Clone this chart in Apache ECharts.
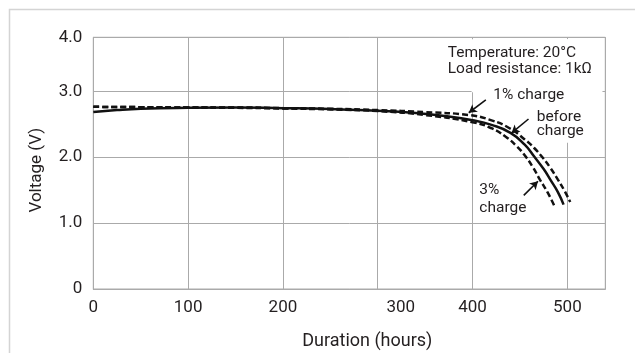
<!DOCTYPE html>
<html>
<head>
<meta charset="utf-8">
<title>Discharge curves</title>
<script src="https://cdn.jsdelivr.net/npm/echarts@6/dist/echarts.min.js"></script>
<style>
  html, body { margin: 0; padding: 0; background: #fff; }
  #chart { width: 635px; height: 353px; }
</style>
</head>
<body>
<div id="chart"></div>
<script>
// [hours, volts]
const beforeCharge = [[0, 2.685], [25, 2.715], [50, 2.735], [100, 2.75], [150, 2.755], [200, 2.745], [250, 2.73], [300, 2.705], [340, 2.67], [370, 2.625], [400, 2.56], [420, 2.49], [440, 2.37], [455, 2.19], [465, 2.01], [475, 1.82], [482, 1.66], [490, 1.47], [496, 1.28]]
const charge1 = [[0, 2.765], [50, 2.76], [100, 2.755], [150, 2.755], [200, 2.745], [250, 2.735], [300, 2.715], [350, 2.685], [396, 2.64], [420, 2.56], [439, 2.44], [455, 2.27], [465, 2.14], [473, 2.01], [482, 1.84], [490, 1.66], [497, 1.49], [503, 1.32]]
const charge3 = [[0, 2.765], [50, 2.76], [100, 2.755], [150, 2.75], [200, 2.74], [250, 2.725], [300, 2.7], [350, 2.64], [400, 2.53], [420, 2.44], [435, 2.31], [447, 2.16], [456, 2.01], [464, 1.84], [471, 1.66], [479, 1.47], [486, 1.27]]

const xMax = 540
const yTop = 3.82            // top of the frame, the source labels it 4.0
const yTickLabels = ['0', '1.0', '2.0', '3.0', '4.0']

// label arrows, [tail, head] in data units
const arrow1 = [[414, 2.87], [396, 2.675]]
const arrowBefore = [[459, 2.58], [441, 2.365]]
const arrow3 = [[454, 1.42], [469, 1.635]]

// blank box behind the notes (grid lines stop there)
const noteMask = [[[399, 2.985], [537, 3.79]], [[495, 2.22], [505, 3.79]]]

const chart = echarts.init(document.getElementById('chart'))

const font = 'Roboto'
const ink = '#231f20'
const gridGrey = '#aaa'

const toPair = (p) => [{ coord: p[0] }, { coord: p[1] }]

const lineSeries = (name, data, dashed) => ({
  name: name,
  type: 'line',
  data: data,
  symbol: 'none',
  smooth: 0.5,
  z: 3,
  lineStyle: {
    color: '#111',
    width: 2.5,
    type: dashed ? [6, 3] : 'solid'
  },
  emphasis: { disabled: true }
})

const before = lineSeries('before charge', beforeCharge, false)
before.markArea = {
  silent: true,
  itemStyle: { color: '#fff', opacity: 1 },
  label: { show: false },
  emphasis: { disabled: true },
  data: noteMask.map(toPair)
}
before.markLine = {
  silent: true,
  symbol: ['none', 'arrow'],
  symbolSize: [7, 8],
  lineStyle: { color: '#111', width: 1.6, type: 'solid' },
  label: { show: false },
  emphasis: { disabled: true },
  data: [arrow1, arrowBefore, arrow3].map(toPair)
}

const note = (text, x, y) => ({
  type: 'text',
  x: x,
  y: y,
  z: 100,
  style: {
    text: text,
    font: '15.5px ' + font,
    fill: ink,
    textAlign: 'left',
    textVerticalAlign: 'middle'
  }
})

const option = {
  animation: false,
  backgroundColor: '#fff',
  grid: {
    left: 93.3,
    right: 29.7,
    top: 37.3,
    bottom: 64,
    containLabel: false,
    outerBoundsMode: 'none',
    show: true,
    borderColor: gridGrey,
    borderWidth: 1,
    backgroundColor: 'transparent'
  },
  xAxis: {
    type: 'value',
    min: 0,
    max: xMax,
    interval: 100,
    name: 'Duration (hours)',
    nameLocation: 'middle',
    nameGap: 43,
    nameTextStyle: { fontFamily: font, fontSize: 18, color: ink, padding: [0, 0, 0, 36] },
    axisLine: { show: true, lineStyle: { color: gridGrey, width: 1 } },
    axisTick: { show: false },
    axisLabel: {
      margin: 10,
      showMaxLabel: false,
      fontFamily: font,
      fontSize: 17,
      color: ink,
      // the source prints 300 a little to the right of its grid line
      formatter: (v) => v === 300 ? '{off|300}' : String(v),
      rich: { off: { padding: [0, 0, 0, 46], fontFamily: font, fontSize: 17, color: ink } }
    },
    splitLine: { show: true, lineStyle: { color: gridGrey, width: 1 } }
  },
  yAxis: {
    type: 'value',
    min: 0,
    max: yTop,
    interval: 1,
    name: 'Voltage (V)',
    nameLocation: 'middle',
    nameGap: 48,
    nameTextStyle: { fontFamily: font, fontSize: 17, color: ink, padding: [0, 14, 0, 0] },
    axisLine: { show: true, lineStyle: { color: gridGrey, width: 1 } },
    axisTick: { show: false },
    axisLabel: {
      margin: 11,
      showMinLabel: true,
      showMaxLabel: true,
      fontFamily: font,
      fontSize: 17,
      color: ink,
      formatter: (v, i) => yTickLabels[i]
    },
    splitLine: { show: true, lineStyle: { color: gridGrey, width: 1 } }
  },
  graphic: [
    // outer frame of the figure (top and left edges show)
    {
      type: 'rect',
      shape: { x: 9.5, y: 9.5, width: 700, height: 400 },
      style: { fill: 'none', stroke: '#d4d4d4', lineWidth: 1.5 },
      z: -1
    },
    note('Temperature: 20°C', 447.7, 53.3),
    note('Load resistance: 1kΩ', 447.7, 69.3),
    note('1% charge', 493.3, 95),
    note('before', 536.7, 116.7),
    note('charge', 536.7, 131),
    note('3%', 479.3, 190),
    note('charge', 479.3, 208)
  ],
  series: [
    before,
    lineSeries('1% charge', charge1, true),
    lineSeries('3% charge', charge3, true)
  ]
}

chart.setOption(option)
</script>
</body>
</html>
